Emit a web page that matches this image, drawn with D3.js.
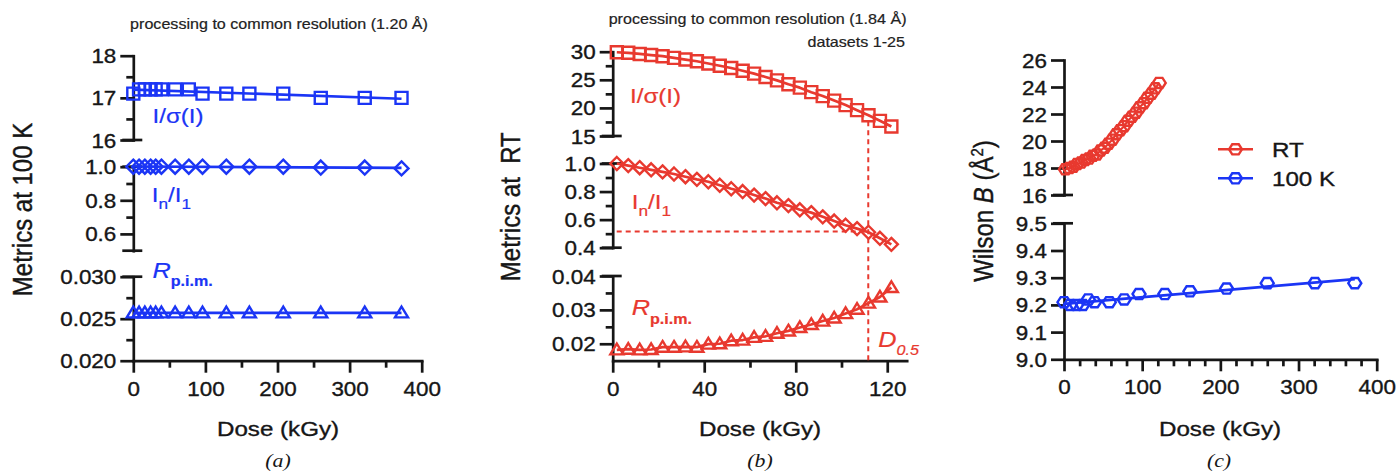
<!DOCTYPE html>
<html><head><meta charset="utf-8">
<script src="https://cdn.jsdelivr.net/npm/d3@7"></script>
<style>
html,body{margin:0;padding:0;background:#fff;}
svg{display:block;}
text{font-family:"Liberation Sans", Arial, sans-serif;}
</style></head><body>
<svg id="chart" width="1399" height="472"></svg>
<script>
// ---------------- data ----------------
const dose100K   = [0, 8, 16, 24, 31, 39, 58, 77, 96, 129, 161, 208, 260, 321, 372];
const isig100K   = [17.1, 17.2, 17.2, 17.2, 17.2, 17.2, 17.2, 17.2, 17.1, 17.1, 17.1, 17.1, 17.0, 17.0, 17.0];
const inI1_100K  = [1.0, 1.0, 1.0, 1.0, 1.0, 1.0, 1.0, 1.0, 1.0, 1.0, 1.0, 1.0, 0.995, 0.995, 0.99];
const rpim100K   = [0.0257, 0.0257, 0.0257, 0.0257, 0.0257, 0.0257, 0.0257, 0.0257, 0.0257, 0.0257, 0.0257, 0.0257, 0.0257, 0.0257, 0.0257];
const wilson100K = [9.21, 9.20, 9.20, 9.20, 9.22, 9.21, 9.21, 9.22, 9.24, 9.24, 9.25, 9.26, 9.28, 9.28, 9.28];

const doseRT   = [1.8, 6.8, 11.8, 16.8, 21.8, 26.8, 31.8, 36.8, 41.8, 46.8, 51.8, 56.8, 61.8, 66.8, 71.8, 76.8, 81.8, 86.8, 91.8, 96.8, 101.8, 106.8, 111.8, 116.8, 121.8];
const isigRT   = [29.9, 29.8, 29.6, 29.4, 29.2, 28.9, 28.6, 28.3, 27.9, 27.5, 27.1, 26.6, 26.1, 25.5, 24.9, 24.2, 23.6, 22.8, 22.1, 21.3, 20.5, 19.6, 18.7, 17.7, 16.7];
const inI1RT   = [1.0, 0.985, 0.97, 0.955, 0.94, 0.925, 0.906, 0.887, 0.87, 0.845, 0.82, 0.80, 0.775, 0.75, 0.72, 0.70, 0.67, 0.65, 0.62, 0.59, 0.56, 0.536, 0.51, 0.467, 0.424];
const rpimRT   = [0.0182, 0.0184, 0.0182, 0.0183, 0.0190, 0.0190, 0.0191, 0.0190, 0.0199, 0.0200, 0.0209, 0.0211, 0.0219, 0.0222, 0.0231, 0.0238, 0.0248, 0.0257, 0.0267, 0.0276, 0.0289, 0.0302, 0.0320, 0.0338, 0.0366];
const wilsonRT = [17.9, 18.0, 18.1, 18.3, 18.4, 18.6, 18.7, 18.9, 19.0, 19.3, 19.5, 19.8, 20.1, 20.5, 20.8, 21.1, 21.5, 21.8, 22.1, 22.5, 22.8, 23.2, 23.5, 23.9, 24.3];

const d05 = 111.7;       // D0.5 dose (kGy)
const halfLevel = 0.515; // In/I1 level of the horizontal guide

const ticksA = {x:[0,100,200,300,400], xMinor:[50,150,250,350],
  y1:[16,17,18], y1Minor:[16.5,17.5], y2:[0.6,0.8,1.0], y2Minor:[0.7,0.9],
  y3:[0.020,0.025,0.030], y3Minor:[0.0225,0.0275]};
const ticksB = {x:[0,40,80,120], xMinor:[20,60,100],
  y1:[15,20,25,30], y1Minor:[17.5,22.5,27.5], y2:[0.4,0.6,0.8,1.0], y2Minor:[0.5,0.7,0.9],
  y3:[0.02,0.03,0.04], y3Minor:[0.025,0.035]};
const ticksC = {x:[0,100,200,300,400], xMinor:[20,40,60,80,120,140,160,180,220,240,260,280,320,340,360,380],
  y1:[16,18,20,22,24,26], y2:[9.0,9.1,9.2,9.3,9.4,9.5]};

// ---------------- style ----------------
const RED = "#e8392f", BLUE = "#1b35f5", INK = "#161616";
const SX = 1.15; // horizontal stretch of the lettering
const AXW = 2.7;

const svg = d3.select("#chart");

function addText(parent, x, y, str, o = {}) {
  const fill = o.fill || INK;
  const t = parent.append("text")
    .attr("transform", `translate(${x},${y}) scale(${o.sx ?? SX},1)` + (o.rot ? ` rotate(${o.rot})` : ""))
    .attr("text-anchor", o.anchor || "start")
    .attr("font-size", o.size || 20)
    .attr("font-style", o.style || "normal")
    .attr("font-weight", o.weight || "normal")
    .attr("fill", fill)
    .attr("stroke", fill).attr("stroke-width", o.sw ?? 0.35);
  if (o.family) t.style("font-family", o.family);
  if (str !== null) t.text(str);
  return t;
}
function span(t, str, o = {}) {
  const s = t.append("tspan").text(str);
  if (o.size) s.attr("font-size", o.size);
  if (o.dy) s.attr("dy", o.dy);
  if (o.style) s.attr("font-style", o.style);
  if (o.weight) s.attr("font-weight", o.weight);
  return s;
}

function styleAxis(g) {
  g.attr("font-family", null).attr("font-size", null).style("color", INK);
  g.select(".domain").attr("stroke-width", AXW).attr("stroke-linecap", "square");
  g.selectAll(".tick line").attr("stroke-width", AXW);
}

function ySeg(x0, scale, major, minor, fmt, capTop, capBot) {
  const g = svg.append("g").attr("transform", `translate(${x0},0)`);
  g.call(d3.axisLeft(scale).tickValues(major).tickSize(13).tickSizeOuter(0).tickFormat(fmt));
  styleAxis(g);
  g.selectAll(".tick text").attr("x", -17 / SX).attr("dy", "0.36em")
    .attr("transform", `scale(${SX},1)`).attr("font-size", 19.5).attr("fill", INK)
    .attr("stroke", INK).attr("stroke-width", 0.35);
  if (minor && minor.length) {
    const m = g.append("g").call(d3.axisLeft(scale).tickValues(minor).tickSize(7).tickFormat(""));
    m.select(".domain").remove();
    m.selectAll(".tick line").attr("stroke-width", AXW).attr("stroke", INK);
  }
  const dom = scale.domain();
  const caps = [];
  if (capTop) caps.push(dom[1]);
  if (capBot) caps.push(dom[0]);
  g.selectAll("line.cap").data(caps).join("line").attr("class", "cap")
    .attr("x1", -11).attr("x2", 9).attr("y1", d => scale(d)).attr("y2", d => scale(d))
    .attr("stroke", INK).attr("stroke-width", AXW);
}

function xAxis(y0, scale, major, minor) {
  const g = svg.append("g").attr("transform", `translate(0,${y0})`);
  g.call(d3.axisBottom(scale).tickValues(major).tickSize(12).tickSizeOuter(0).tickFormat(d3.format("d")));
  styleAxis(g);
  g.selectAll(".tick text").attr("y", 35).attr("dy", 0)
    .attr("transform", `scale(${SX},1)`).attr("font-size", 19.5).attr("fill", INK)
    .attr("stroke", INK).attr("stroke-width", 0.35).attr("x", 0);
  const m = g.append("g").call(d3.axisBottom(scale).tickValues(minor).tickSize(7).tickFormat(""));
  m.select(".domain").remove();
  m.selectAll(".tick line").attr("stroke-width", AXW).attr("stroke", INK);
}

// symbols
const symSquare = {draw(c, s){const r=Math.sqrt(s)/2; c.moveTo(-r,-r); c.lineTo(r,-r); c.lineTo(r,r); c.lineTo(-r,r); c.closePath();}};
const symDiamond = {draw(c, s){const r=Math.sqrt(s)/2; c.moveTo(0,-r); c.lineTo(r,0); c.lineTo(0,r); c.lineTo(-r,0); c.closePath();}};
const symTriangle = {draw(c, s){const r=Math.sqrt(s)/2; c.moveTo(0,-r*0.95); c.lineTo(r,r*0.7); c.lineTo(-r,r*0.7); c.closePath();}};
const symHex = {draw(c, s){const r=Math.sqrt(s)/2, h=r*0.78; c.moveTo(-r,0); c.lineTo(-r/2,-h); c.lineTo(r/2,-h); c.lineTo(r,0); c.lineTo(r/2,h); c.lineTo(-r/2,h); c.closePath();}};

function markers(xs, ys, xScale, yScale, type, diam, color, sw = 2.4) {
  const pts = xs.map((d, i) => [d, ys[i]]);
  svg.append("g").selectAll("path").data(pts).join("path")
    .attr("d", d3.symbol().type(type).size(diam * diam))
    .attr("transform", d => `translate(${xScale(d[0])},${yScale(d[1])})`)
    .attr("fill", "none").attr("stroke", color).attr("stroke-width", sw);
}
function polyline(xs, ys, xScale, yScale, color, w = 2.7) {
  const pts = xs.map((d, i) => [d, ys[i]]);
  svg.append("path").datum(pts)
    .attr("d", d3.line().x(d => xScale(d[0])).y(d => yScale(d[1])))
    .attr("fill", "none").attr("stroke", color).attr("stroke-width", w).attr("stroke-linejoin", "round");
}
function fitLine(xs, ys, xScale, yScale, color, w = 2.7) {
  const n = xs.length, mx = d3.mean(xs), my = d3.mean(ys);
  let sxy = 0, sxx = 0;
  for (let i = 0; i < n; i++) { sxy += (xs[i]-mx)*(ys[i]-my); sxx += (xs[i]-mx)**2; }
  const b = sxx ? sxy / sxx : 0, a = my - b * mx;
  const ends = [d3.min(xs), d3.max(xs)];
  polyline(ends, ends.map(x => a + b * x), xScale, yScale, color, w);
}

// ================= Panel (a) =================
const xA  = d3.scaleLinear().domain([0, 400]).range([133.3, 421.7]);
const yA1 = d3.scaleLinear().domain([16, 18]).range([140, 55.7]);
const yA2 = d3.scaleLinear().domain([0.5, 1.0]).range([250.7, 166.7]);
const yA3 = d3.scaleLinear().domain([0.02, 0.03]).range([360.7, 276.7]);

ySeg(133.3, yA1, ticksA.y1, ticksA.y1Minor, d3.format("d"), false, true);
ySeg(133.3, yA2, ticksA.y2, ticksA.y2Minor, d3.format(".1f"), true, true);
ySeg(133.3, yA3, ticksA.y3, ticksA.y3Minor, d3.format(".3f"), true, false);
xAxis(360.7, xA, ticksA.x, ticksA.xMinor);

fitLine(dose100K, isig100K, xA, yA1, BLUE);
fitLine(dose100K, inI1_100K, xA, yA2, BLUE);
fitLine(dose100K, rpim100K, xA, yA3, BLUE);
markers(dose100K, isig100K, xA, yA1, symSquare, 12, BLUE);
markers(dose100K, inI1_100K, xA, yA2, symDiamond, 14, BLUE);
markers(dose100K, rpim100K, xA, yA3, symTriangle, 13, BLUE);

addText(svg, 279, 28.5, "processing to common resolution (1.20 Å)", {size: 14, anchor: "middle", fill: "#222", sw: 0.2});
addText(svg, 152.5, 123, "I/σ(I)", {size: 21, fill: BLUE, sw: 0.2});
{ const t = addText(svg, 151.7, 201.7, "I", {size: 21, fill: BLUE, sw: 0.2});
  span(t, "n", {size: 15, dy: 7}); span(t, "/I", {size: 21, dy: -7}); span(t, "1", {size: 15, dy: 7}); }
{ const t = addText(svg, 152.5, 278, "R", {size: 22, fill: BLUE, style: "italic", sw: 0.2});
  span(t, "p.i.m.", {size: 14, dy: 8, style: "normal", weight: "bold"}); }
addText(svg, 32, 209.5, "Metrics at 100 K", {size: 24, anchor: "middle", rot: -90});
addText(svg, 278, 435.5, "Dose (kGy)", {size: 21, anchor: "middle"});
addText(svg, 278, 467, "(a)", {size: 19, anchor: "middle", style: "italic", family: "'Liberation Serif', serif", sw: 0});

// ================= Panel (b) =================
const xB  = d3.scaleLinear().domain([0, 128.5]).range([612.7, 906.7]);
const yB1 = d3.scaleLinear().domain([15, 30]).range([136, 51.7]);
const yB2 = d3.scaleLinear().domain([0.4, 1.0]).range([247.7, 163.5]);
const yB3 = d3.scaleLinear().domain([0.015, 0.04]).range([360.7, 276]);

ySeg(612.7, yB1, ticksB.y1, ticksB.y1Minor, d3.format("d"), false, true);
ySeg(612.7, yB2, ticksB.y2, ticksB.y2Minor, d3.format(".1f"), true, true);
ySeg(612.7, yB3, ticksB.y3, ticksB.y3Minor, d3.format(".2f"), true, false);
xAxis(360.7, xB, ticksB.x, ticksB.xMinor);

// guides
const dIdx = d3.minIndex(doseRT, d => Math.abs(d - d05));
svg.append("line").attr("x1", xB(d05)).attr("x2", xB(d05))
  .attr("y1", yB1(isigRT[dIdx]) + 6).attr("y2", yB3(0.015))
  .attr("stroke", RED).attr("stroke-width", 2).attr("stroke-dasharray", "5,4");
svg.append("line").attr("x1", xB(0) + 4).attr("x2", xB(d05))
  .attr("y1", yB2(halfLevel)).attr("y2", yB2(halfLevel))
  .attr("stroke", RED).attr("stroke-width", 2).attr("stroke-dasharray", "5,4");

polyline(doseRT, isigRT, xB, yB1, RED);
polyline(doseRT, inI1RT, xB, yB2, RED);
polyline(doseRT, rpimRT, xB, yB3, RED);
markers(doseRT, isigRT, xB, yB1, symSquare, 12, RED);
markers(doseRT, inI1RT, xB, yB2, symDiamond, 13, RED);
markers(doseRT, rpimRT, xB, yB3, symTriangle, 13, RED);

addText(svg, 906.5, 24, "processing to common resolution (1.84 Å)", {size: 14, anchor: "end", fill: "#222", sw: 0.2});
addText(svg, 905, 46.5, "datasets 1-25", {size: 14, anchor: "end", fill: "#222", sw: 0.2});
addText(svg, 630, 103, "I/σ(I)", {size: 21, fill: RED, sw: 0.2});
{ const t = addText(svg, 631.7, 209.3, "I", {size: 21, fill: RED, sw: 0.2});
  span(t, "n", {size: 15, dy: 7}); span(t, "/I", {size: 21, dy: -7}); span(t, "1", {size: 15, dy: 7}); }
{ const t = addText(svg, 631.7, 315, "R", {size: 22, fill: RED, style: "italic", sw: 0.2});
  span(t, "p.i.m.", {size: 14, dy: 9, style: "normal", weight: "bold"}); }
{ const t = addText(svg, 878.3, 346.5, "D", {size: 22, fill: RED, style: "italic", sw: 0.2});
  span(t, "0.5", {size: 14, dy: 8.5}); }
addText(svg, 520, 206.7, "Metrics at  RT", {size: 24, anchor: "middle", rot: -90}).style("white-space", "pre");
addText(svg, 760, 435.5, "Dose (kGy)", {size: 21, anchor: "middle"});
addText(svg, 760, 467, "(b)", {size: 19, anchor: "middle", style: "italic", family: "'Liberation Serif', serif", sw: 0});

// ================= Panel (c) =================
const xC  = d3.scaleLinear().domain([0, 400]).range([1064, 1376.7]);
const yC1 = d3.scaleLinear().domain([16, 26]).range([195, 60]);
const yC2 = d3.scaleLinear().domain([9.0, 9.5]).range([359.3, 223.3]);

ySeg(1064, yC1, ticksC.y1, [], d3.format("d"), false, true);
ySeg(1064, yC2, ticksC.y2, [], d3.format(".1f"), true, false);
xAxis(359.3, xC, ticksC.x, ticksC.xMinor);

polyline(doseRT, wilsonRT, xC, yC1, RED, 2.2);
fitLine(dose100K, wilson100K, xC, yC2, BLUE);
markers(doseRT, wilsonRT, xC, yC1, symHex, 13, RED);
markers(dose100K, wilson100K, xC, yC2, symHex, 13, BLUE);

{ const t = addText(svg, 993, 211, "Wilson ", {size: 24, anchor: "middle", rot: -90});
  span(t, "B", {style: "italic"}); span(t, " (Å", {style: "normal"}); span(t, "2", {size: 15, dy: -9}); span(t, ")", {size: 24, dy: 9}); }
addText(svg, 1220, 436, "Dose (kGy)", {size: 21, anchor: "middle"});
addText(svg, 1219, 467, "(c)", {size: 19, anchor: "middle", style: "italic", family: "'Liberation Serif', serif", sw: 0});

// legend
const legendItems = [{name: "RT", color: RED, y: 149.3}, {name: "100 K", color: BLUE, y: 178.3}];
const lg = svg.append("g");
legendItems.forEach(it => {
  lg.append("line").attr("x1", 1218).attr("x2", 1253).attr("y1", it.y).attr("y2", it.y)
    .attr("stroke", it.color).attr("stroke-width", 2.5);
  lg.append("path").attr("d", d3.symbol().type(symHex).size(169)).attr("transform", `translate(1235.5,${it.y})`)
    .attr("fill", "none").attr("stroke", it.color).attr("stroke-width", 2.4);
  addText(lg, 1272, it.y + 8, it.name, {size: 21});
});
</script>
</body></html>
